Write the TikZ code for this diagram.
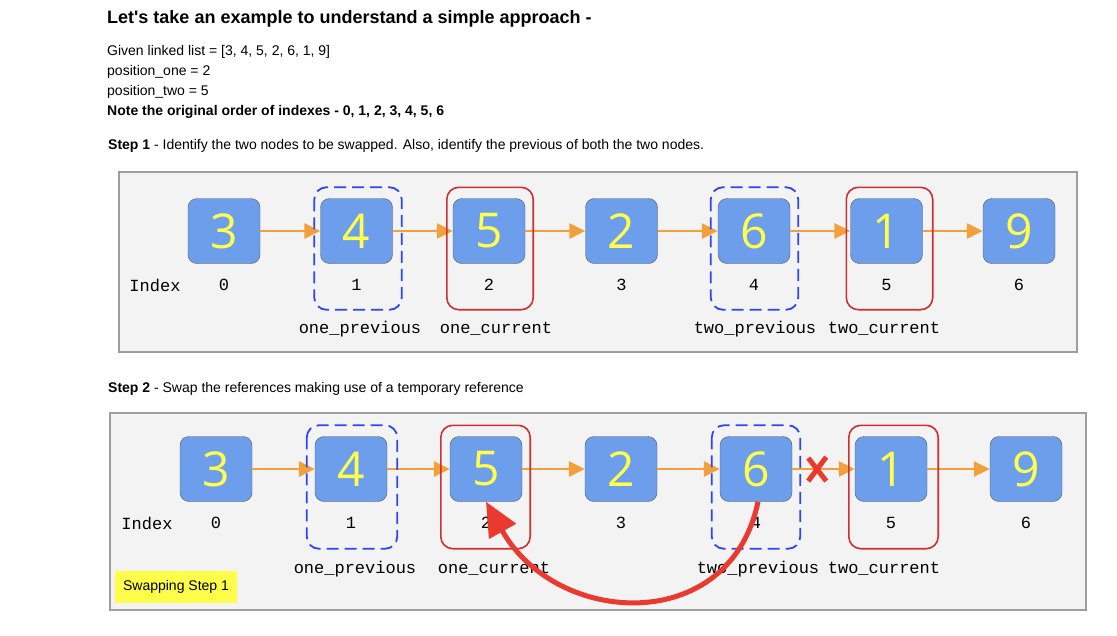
\documentclass[tikz,border=0pt]{standalone}
\usepackage{fontspec}
\setmainfont{Liberation Sans}
\newfontfamily\codefont{Liberation Mono}
\newfontfamily\digitfont{Open Sans}
\usetikzlibrary{arrows.meta,calc}

\definecolor{nodeblue}{HTML}{6D9EEB}
\definecolor{nodeedge}{HTML}{595959}
\definecolor{digityellow}{HTML}{FFFF4D}
\definecolor{linkorange}{HTML}{F4A03A}
\definecolor{prevblue}{HTML}{2F45F5}
\definecolor{currred}{HTML}{CC3030}
\definecolor{swapred}{HTML}{EA3A30}
\definecolor{panelfill}{HTML}{F3F3F3}
\definecolor{panelgray}{HTML}{9E9E9E}
\definecolor{labelyellow}{HTML}{FDFD4A}

\tikzset{
  listnode/.style={draw=nodeedge, fill=nodeblue, rounded corners=9pt,
    minimum width=72pt, minimum height=65pt, inner sep=0pt,
    text=digityellow, font=\digitfont\fontsize{48}{48}\selectfont},
  nextptr/.style={draw=linkorange, line width=2.5pt,
    -{Triangle[length=16pt,width=15pt]}},
  prevbox/.style={draw=prevblue, line width=1.8pt,
    dash pattern=on 12pt off 6pt, rounded corners=12pt},
  currbox/.style={draw=currred, line width=1.6pt, rounded corners=12pt},
  idx/.style={inner sep=0pt, font=\codefont\fontsize{17}{17}\selectfont},
  panel/.style={draw=panelgray, fill=panelfill, line width=1.2pt},
  textline/.style={anchor=base west, inner sep=0pt,
    font=\fontsize{14}{14}\selectfont},
  swapptr/.style={draw=swapred, line width=5pt,
    -{Triangle[length=34pt,width=30pt]}},
}

\begin{document}
\begin{tikzpicture}[x=1pt, y=-1pt]
  \useasboundingbox (0,0) rectangle (1117,635);

  % header text
  \node [textline, font=\bfseries\fontsize{18}{18}\selectfont] (title) at (107,23)
    {Let\textquotesingle s take an example to understand a simple approach -};
  \node [textline] (given) at (107,55) {Given linked list = [3, 4, 5, 2, 6, 1, 9]};
  \node [textline] (posone) at (107,75) {position\_one = 2};
  \node [textline] (postwo) at (107,95) {position\_two = 5};
  \node [textline, font=\bfseries\fontsize{14}{14}\selectfont] (note) at (107,115)
    {Note the original order of indexes - 0, 1, 2, 3, 4, 5, 6};
  \node [textline] (stepone) at (108,149)
    {\textbf{Step 1} - Identify the two nodes to be swapped. Also, identify the previous of both the two nodes.};

  % step 1 panel
  \draw [panel] (119,172) rectangle (1077,352);
  \foreach \v [count=\i from 0] in {3,4,5,2,6,1,9} {
    \node [listnode] (a\i) at ({224+132.5*\i},231) {\v};
    \node [idx] (ia\i) at ({224+132.5*\i},285) {\i};
  }
  \foreach \i/\j in {0/1,1/2,2/3,3/4,4/5,5/6}
    \draw [nextptr] (a\i.east) -- (a\j.west);
  \node [idx] (indexa) at (155,285) {Index};
  \draw [prevbox] ($(a1.north west)+(-6,-11)$) rectangle ($(a1.south east)+(9,46)$);
  \draw [currbox] ($(a2.north west)+(-6,-11)$) rectangle ($(a2.south east)+(8,46)$);
  \draw [prevbox] ($(a4.north west)+(-7,-11)$) rectangle ($(a4.south east)+(8,46)$);
  \draw [currbox] ($(a5.north west)+(-4,-11)$) rectangle ($(a5.south east)+(10,46)$);
  \node [idx] (oneprev) at (360,329) {one\_previous};
  \node [idx] (onecur) at (496,329) {one\_current};
  \node [idx] (twoprev) at (755,329) {two\_previous};
  \node [idx] (twocur) at (884,329) {two\_current};

  \node [textline] (steptwo) at (108,392)
    {\textbf{Step 2} - Swap the references making use of a temporary reference};

  % step 2 panel
  \draw [panel] (110,413) rectangle (1086,610);
  \foreach \v [count=\i from 0] in {3,4,5,2,6,1,9} {
    \node [listnode] (b\i) at ({216+135*\i},469) {\v};
    \node [idx] (ib\i) at ({216+135*\i},523) {\i};
  }
  \foreach \i/\j in {0/1,1/2,2/3,3/4,4/5,5/6}
    \draw [nextptr] (b\i.east) -- (b\j.west);
  \node [idx] (indexb) at (147,523) {Index};
  \draw [prevbox] ($(b1.north west)+(-8,-11)$) rectangle ($(b1.south east)+(10,47)$);
  \draw [currbox] ($(b2.north west)+(-9,-11)$) rectangle ($(b2.south east)+(8,47)$);
  \draw [prevbox] ($(b4.north west)+(-8,-11)$) rectangle ($(b4.south east)+(8,47)$);
  \draw [currbox] ($(b5.north west)+(-6,-11)$) rectangle ($(b5.south east)+(11,47)$);
  \node [idx] (oneprevb) at (355,569) {one\_previous};
  \node [idx] (onecurb) at (494,569) {one\_current};
  \node [idx] (twoprevb) at (758,569) {two\_previous};
  \node [idx] (twocurb) at (884,569) {two\_current};

  % broken link and new reference
  \coordinate (cut) at ($(b4.east)!0.4!(b5.west)$);
  \draw [swapred, line width=5pt]
    ($(cut)+(-9,-11)$) -- ($(cut)+(9,12)$)
    ($(cut)+(9,-12)$) -- ($(cut)+(-9,12)$);
  \draw [swapptr] ([xshift=2pt]b4.south) .. controls +(-28,135) and +(70,125) .. (b2.south);

  \node [fill=labelyellow, minimum width=122pt, minimum height=32pt, inner sep=0pt,
    font=\fontsize{14}{14}\selectfont] (swaplabel) at (176,587) {Swapping Step 1};
\end{tikzpicture}
\end{document}
